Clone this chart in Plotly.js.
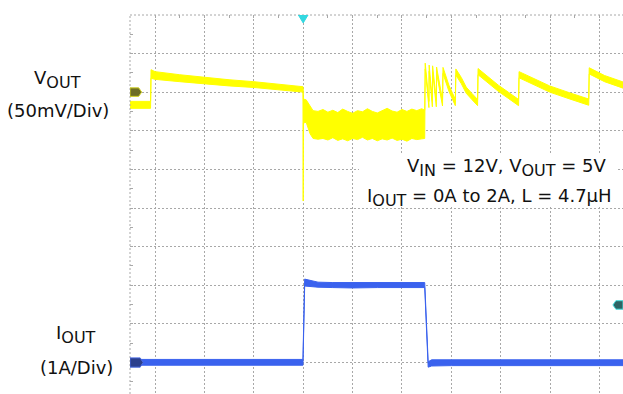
<!DOCTYPE html>
<html><head><meta charset="utf-8">
<script src="https://cdn.plot.ly/plotly-3.0.1.min.js"></script>
<style>html,body{margin:0;padding:0;background:#fff;overflow:hidden}</style>
</head><body><div id="chart" style="width:623px;height:394px"></div>
<script>
// ---- Data ----
// time in horizontal divisions (0 = trigger)
// VOUT envelope (upper / lower edge of the trace), mV relative to the CH1 marker, 50 mV/div
const vout_t  = [-3.51,-3.09,-3.08,-3.00,-2.50,-2.00,-1.50,-1.00,-0.50,-0.005,0.00,0.005,0.06,0.10,0.14,0.20,
  0.30,0.40,0.50,0.60,0.70,0.80,0.90,1.00,1.10,1.20,1.30,1.40,1.50,1.60,1.70,1.80,1.90,2.00,2.10,2.20,2.30,2.40,2.46,
  2.47,2.545,2.55,2.615,2.62,2.695,2.70,2.82,2.83,2.95,3.08,3.09,3.20,3.30,3.42,3.53,3.54,3.75,3.95,4.15,4.36,
  4.37,4.70,4.99,5.40,5.78,5.79,6.10,6.48];
const vout_hi = [-12,-12,29,26.5,22.5,19,16,13.5,10.5,7,5,-9,-10,-14,-19,-24,
  -25,-22.5,-26,-23.5,-26.5,-22,-25,-27.5,-24,-25.5,-21.5,-25,-27,-23.5,-21,-24.5,-26,-22.5,-25,-22,-24,-21.5,-23.5,
  37.5,-12,35,-11,34,-11,32.5,-10,32,9,-9.5,30,19,6.5,-2,-9.5,30.5,19,9,0,-9.5,
  26.5,16.5,8,-1,-9,31.5,21.5,13];
const vout_lo = [-21,-21,18,16.5,13.5,10.5,8,6,3,0,-141,-40,-39,-47.5,-54,-60,
  -61,-60,-62,-59,-62.5,-60.5,-63,-60,-61.5,-58.5,-62,-60,-63,-60.5,-62,-59.5,-62.5,-61,-63.5,-60,-61.5,-60.5,-60,
  30,-20,27,-19,26,-19,24.5,-18,24,1,-17.5,22,11,-1.5,-10,-17.5,22.5,11,1,-8,-17.5,
  18.5,8.5,0,-9,-17,23.5,13.5,5];
// IOUT envelope in amperes, 1 A/div
const iout_t  = [-3.51,-0.005,0.03,0.15,0.30,0.60,1.00,1.50,2.00,2.46,2.53,2.60,3.00,4.00,5.00,6.48];
const iout_hi = [0.08,0.08,2.16,2.13,2.08,2.07,2.07,2.06,2.07,2.07,0.02,0.07,0.07,0.07,0.07,0.07];
const iout_lo = [-0.07,-0.07,1.98,1.96,1.95,1.94,1.93,1.94,1.93,1.94,-0.12,-0.09,-0.08,-0.08,-0.08,-0.08];
const trig_level_A = 1.49;

const ch_labels = ["V<sub>OUT</sub>", "(50mV/Div)", "I<sub>OUT</sub>", "(1A/Div)"];
const cond_lines = ["V<sub>IN</sub> = 12V, V<sub>OUT</sub> = 5V", "I<sub>OUT</sub> = 0A to 2A, L = 4.7\u03bcH"];

// ---- channel scaling ----
const V_MV_PER_DIV = 50, V_REF_DIV = 3;
const I_A_PER_DIV = 1, I_ZERO_DIV = -4;
const vdiv = a => a.map(v => V_REF_DIV + v / V_MV_PER_DIV);
const idiv = a => a.map(v => I_ZERO_DIV + v / I_A_PER_DIV);

const W = 623, H = 394, L = 130, T = 15;
const PW = W - L, PH = H - T;
const pxX = p => (p - L) / PW;
const pxY = p => (H - p) / PH;

const YEL = '#ffff00', BLU = '#3a62ee';
const traces = [
  {x: vout_t, y: vdiv(vout_lo), mode: 'lines', line: {color: YEL, width: 1}, hoverinfo: 'skip'},
  {x: vout_t, y: vdiv(vout_hi), mode: 'lines', line: {color: YEL, width: 1}, fill: 'tonexty', fillcolor: YEL, hoverinfo: 'skip'},
  {x: iout_t, y: idiv(iout_lo), mode: 'lines', line: {color: BLU, width: 1}, hoverinfo: 'skip'},
  {x: iout_t, y: idiv(iout_hi), mode: 'lines', line: {color: BLU, width: 1}, fill: 'tonexty', fillcolor: BLU, hoverinfo: 'skip'}
];

const gridc = '#a8a8a8';
const axisCommon = {showgrid: true, gridcolor: gridc, griddash: '2px,2px', gridwidth: 1, zeroline: false,
  showticklabels: false, showline: false, dtick: 1, tick0: 0, ticks: 'inside', ticklen: 3, tickcolor: gridc,
  minor: {dtick: 0.5, ticks: 'inside', ticklen: 3, tickcolor: gridc, showgrid: false}, fixedrange: true};

const font = {family: 'DejaVu Sans, Arial, sans-serif', size: 18, color: '#111'};
function ann(text, xp, yp, xa) {
  return {text: text, xref: 'paper', yref: 'paper', x: pxX(xp), y: pxY(yp), xanchor: xa, yanchor: 'middle',
    showarrow: false, font: font};
}
const sub = s => s.replace(/<sub>(.*?)<\/sub>/g, '<sub><span style="font-size:16px">$1</span></sub>');

const vr = V_REF_DIV, ir = I_ZERO_DIV, tr = I_ZERO_DIV + trig_level_A / I_A_PER_DIV;
const xl = -3.506, xr = 6.474;
const shapes = [
  {type: 'line', xref: 'paper', yref: 'paper', x0: 0, x1: 1, y0: 1, y1: 1, line: {color: gridc, width: 1, dash: '2px,2px'}},
  {type: 'line', xref: 'paper', yref: 'paper', x0: 0, x1: 0, y0: 0, y1: 1, line: {color: gridc, width: 1, dash: '2px,2px'}},
  {type: 'rect', xref: 'paper', yref: 'paper', x0: pxX(359), x1: pxX(616), y0: pxY(206), y1: pxY(155), fillcolor: '#fff', line: {width: 0}, layer: 'above'},
  // CH1 marker
  {type: 'path', xref: 'x', yref: 'y', path: `M ${xl},${vr-0.11} L -3.33,${vr-0.11} L -3.27,${vr} L -3.33,${vr+0.11} L ${xl},${vr+0.11} Z`,
   fillcolor: '#6e6e26', line: {color: '#d0d020', width: 1}, layer: 'above'},
  // CH4 marker
  {type: 'path', xref: 'x', yref: 'y', path: `M ${xl},${ir-0.12} L -3.30,${ir-0.12} L -3.24,${ir} L -3.30,${ir+0.12} L ${xl},${ir+0.12} Z`,
   fillcolor: '#2b3f8c', line: {color: '#4a6ae0', width: 1}, layer: 'above'},
  // trigger level marker
  {type: 'path', xref: 'x', yref: 'y', path: `M ${xr},${tr-0.11} L 6.33,${tr-0.11} L 6.27,${tr} L 6.33,${tr+0.11} L ${xr},${tr+0.11} Z`,
   fillcolor: '#2d6464', line: {color: '#44dddd', width: 1}, layer: 'above'},
  // trigger position marker
  {type: 'path', xref: 'x', yref: 'y', path: `M -0.1,5 L 0.1,5 L 0,4.79 Z`, fillcolor: '#33d8e0', line: {color: '#33d8e0', width: 1}, layer: 'above'}
];

const layout = {
  width: W, height: H, margin: {l: L, r: 0, t: T, b: 0, pad: 0},
  paper_bgcolor: '#fff', plot_bgcolor: '#fff', showlegend: false,
  xaxis: Object.assign({range: [xl, xr], side: 'top'}, axisCommon),
  yaxis: Object.assign({range: [-4.815, 4.996]}, axisCommon),
  shapes: shapes,
  annotations: [
    ann(sub(ch_labels[0]), 57, 79, 'center'),
    ann(ch_labels[1], 58, 110, 'center'),
    ann(sub(ch_labels[2]), 76, 334, 'center'),
    ann(ch_labels[3], 76.5, 367, 'center'),
    ann(sub(cond_lines[0]), 609, 167, 'right'),
    ann(sub(cond_lines[1]), 614, 197, 'right')
  ]
};
Plotly.newPlot('chart', traces, layout, {staticPlot: true, displayModeBar: false});
</script></body></html>
